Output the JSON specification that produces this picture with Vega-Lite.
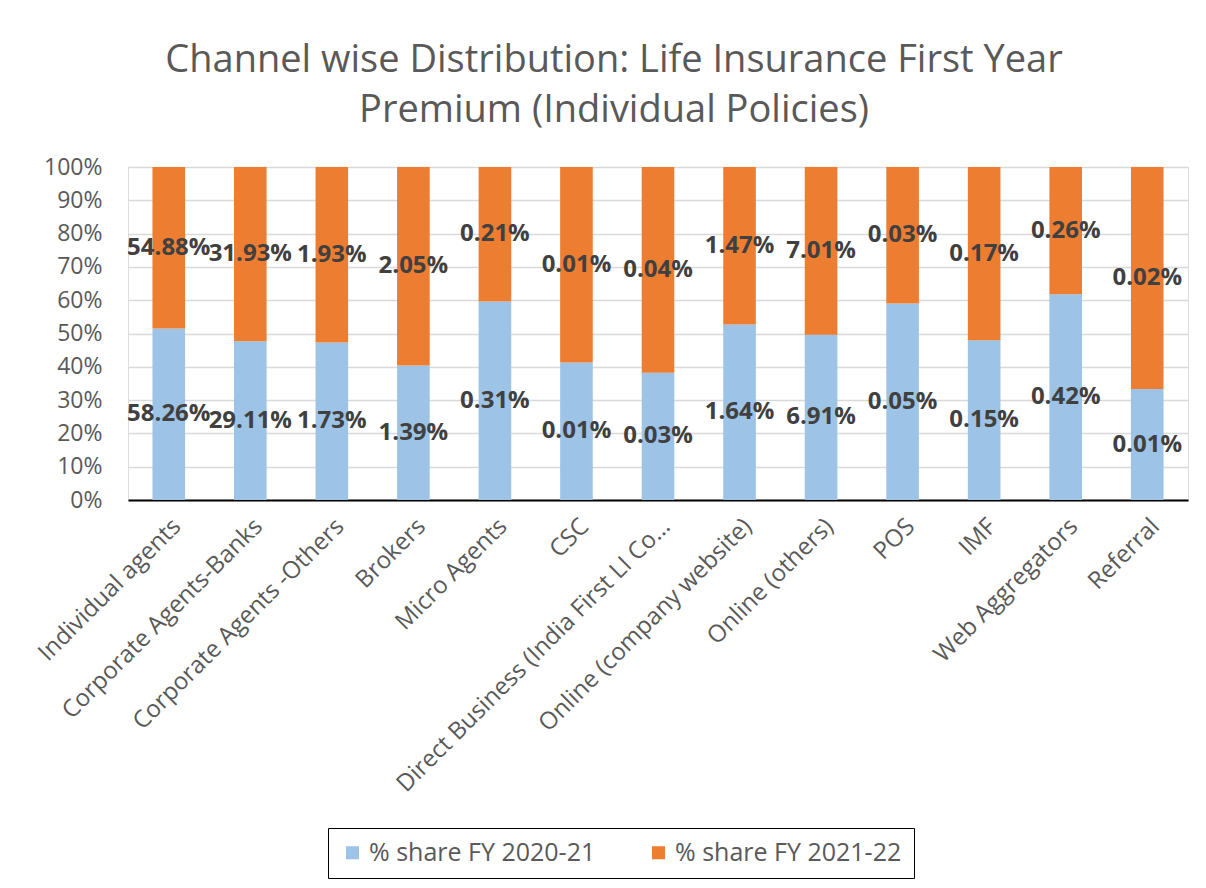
{
  "$schema": "https://vega.github.io/schema/vega-lite/v6.json",
  "width": 1060,
  "height": 333,
  "autosize": "none",
  "padding": {"left": 128, "top": 167, "right": 18, "bottom": 388},
  "background": "white",
  "title": {
    "text": ["Channel wise Distribution: Life Insurance First Year", "Premium (Individual Policies)"],
    "fontSize": 38,
    "font": "Open Sans",
    "fontWeight": "normal",
    "color": "#595959",
    "lineHeight": 50,
    "anchor": "middle",
    "dx": -44,
    "offset": 26
  },
  "data": {
    "values": [
      {"channel": "Individual agents", "series": "% share FY 2020-21", "share": 0.5826},
      {"channel": "Individual agents", "series": "% share FY 2021-22", "share": 0.5488},
      {"channel": "Corporate Agents-Banks", "series": "% share FY 2020-21", "share": 0.2911},
      {"channel": "Corporate Agents-Banks", "series": "% share FY 2021-22", "share": 0.3193},
      {"channel": "Corporate Agents -Others", "series": "% share FY 2020-21", "share": 0.0173},
      {"channel": "Corporate Agents -Others", "series": "% share FY 2021-22", "share": 0.0193},
      {"channel": "Brokers", "series": "% share FY 2020-21", "share": 0.0139},
      {"channel": "Brokers", "series": "% share FY 2021-22", "share": 0.0205},
      {"channel": "Micro Agents", "series": "% share FY 2020-21", "share": 0.0031},
      {"channel": "Micro Agents", "series": "% share FY 2021-22", "share": 0.0021},
      {"channel": "CSC", "series": "% share FY 2020-21", "share": 0.000071},
      {"channel": "CSC", "series": "% share FY 2021-22", "share": 0.000101},
      {"channel": "Direct Business (India First LI Co…", "series": "% share FY 2020-21", "share": 0.00026},
      {"channel": "Direct Business (India First LI Co…", "series": "% share FY 2021-22", "share": 0.00042},
      {"channel": "Online (company website)", "series": "% share FY 2020-21", "share": 0.0164},
      {"channel": "Online (company website)", "series": "% share FY 2021-22", "share": 0.0147},
      {"channel": "Online (others)", "series": "% share FY 2020-21", "share": 0.0691},
      {"channel": "Online (others)", "series": "% share FY 2021-22", "share": 0.0701},
      {"channel": "POS", "series": "% share FY 2020-21", "share": 0.00046},
      {"channel": "POS", "series": "% share FY 2021-22", "share": 0.00032},
      {"channel": "IMF", "series": "% share FY 2020-21", "share": 0.00154},
      {"channel": "IMF", "series": "% share FY 2021-22", "share": 0.00167},
      {"channel": "Web Aggregators", "series": "% share FY 2020-21", "share": 0.0042},
      {"channel": "Web Aggregators", "series": "% share FY 2021-22", "share": 0.0026},
      {"channel": "Referral", "series": "% share FY 2020-21", "share": 0.0001},
      {"channel": "Referral", "series": "% share FY 2021-22", "share": 0.0002}
    ]
  },
  "transform": [
    {"stack": "share", "groupby": ["channel"], "sort": [{"field": "series", "order": "ascending"}], "offset": "normalize", "as": ["y0", "y1"]},
    {"calculate": "(datum.y0 + datum.y1) / 2", "as": "ymid"}
  ],
  "encoding": {
    "x": {
      "field": "channel",
      "type": "nominal",
      "sort": null,
      "scale": {"paddingInner": 0.6, "paddingOuter": 0.3},
      "axis": {
        "title": null,
        "labelAngle": -45,
        "labelFontSize": 24,
        "labelColor": "#595959",
        "labelFont": "Open Sans",
        "labelPadding": 14,
        "labelLimit": 700,
        "ticks": false,
        "domainColor": "#000000",
        "domainWidth": 2,
        "grid": false
      }
    }
  },
  "layer": [
    {
      "mark": {"type": "bar"},
      "encoding": {
        "y": {
          "field": "y0",
          "type": "quantitative",
          "scale": {"domain": [0, 1]},
          "axis": {
            "title": null,
            "format": ".0%",
            "values": [0, 0.1, 0.2, 0.3, 0.4, 0.5, 0.6, 0.7, 0.8, 0.9, 1],
            "labelOverlap": false,
            "labelFontSize": 23,
            "labelColor": "#595959",
            "labelFont": "Open Sans",
            "labelPadding": 26,
            "ticks": false,
            "domain": false,
            "gridColor": "#D9D9D9",
            "gridWidth": 1.5
          }
        },
        "y2": {"field": "y1"},
        "color": {
          "field": "series",
          "type": "nominal",
          "scale": {"domain": ["% share FY 2020-21", "% share FY 2021-22"], "range": ["#9DC3E6", "#ED7D31"]},
          "legend": {
            "title": null,
            "orient": "none",
            "legendX": 200,
            "legendY": 661,
            "direction": "horizontal",
            "symbolType": "square",
            "symbolSize": 170,
            "symbolStrokeWidth": 0,
            "labelFontSize": 25,
            "labelLimit": 400,
            "labelColor": "#595959",
            "labelFont": "Open Sans",
            "columnPadding": 50,
            "padding": 12,
            "strokeColor": "#000000"
          }
        }
      }
    },
    {
      "mark": {"type": "text", "fontSize": 24, "fontWeight": "bold", "font": "Open Sans", "color": "#404040"},
      "encoding": {
        "y": {
          "field": "ymid",
          "type": "quantitative",
          "axis": {
            "title": null,
            "format": ".0%",
            "values": [0, 0.1, 0.2, 0.3, 0.4, 0.5, 0.6, 0.7, 0.8, 0.9, 1],
            "labelOverlap": false,
            "labelFontSize": 23,
            "labelColor": "#595959",
            "labelFont": "Open Sans",
            "labelPadding": 26,
            "ticks": false,
            "domain": false,
            "gridColor": "#D9D9D9",
            "gridWidth": 1.5
          }
        },
        "text": {"field": "share", "type": "quantitative", "format": ".2%"}
      }
    }
  ]
}
